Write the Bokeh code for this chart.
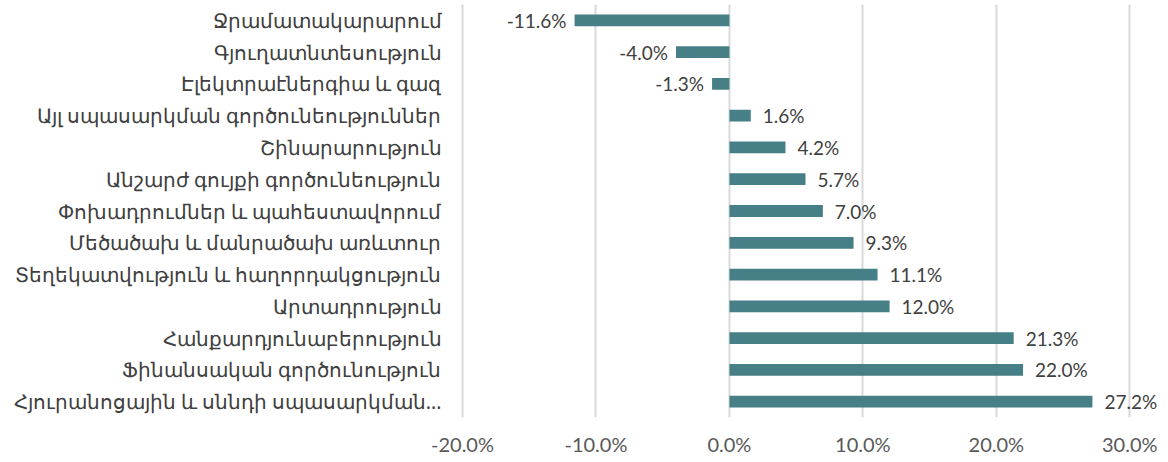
from bokeh.plotting import figure
from bokeh.models import ColumnDataSource, LabelSet, FixedTicker, CustomJSTickFormatter, Range1d
from bokeh.core.properties import value
from bokeh.embed import file_html
from bokeh.resources import INLINE

categories = [
    "Ջրամատակարարում",
    "Գյուղատնտեսություն",
    "Էլեկտրաէներգիա և գազ",
    "Այլ սպասարկման գործունեություններ",
    "Շինարարություն",
    "Անշարժ գույքի գործունեություն",
    "Փոխադրումներ և պահեստավորում",
    "Մեծածախ և մանրածախ առևտուր",
    "Տեղեկատվություն և հաղորդակցություն",
    "Արտադրություն",
    "Հանքարդյունաբերություն",
    "Ֆինանսական գործունություն",
    "Հյուրանոցային և սննդի սպասարկման...",
]
values = [-11.6, -4.0, -1.3, 1.6, 4.2, 5.7, 7.0, 9.3, 11.1, 12.0, 21.3, 22.0, 27.2]
x_ticks = [-20, -10, 0, 10, 20, 30]

labels = ["%.1f%%" % v for v in values]
src_pos = ColumnDataSource(dict(
    y=[c for c, v in zip(categories, values) if v >= 0],
    x=[v for v in values if v >= 0],
    t=[l for l, v in zip(labels, values) if v >= 0],
))
src_neg = ColumnDataSource(dict(
    y=[c for c, v in zip(categories, values) if v < 0],
    x=[v for v in values if v < 0],
    t=[l for l, v in zip(labels, values) if v < 0],
))
src = ColumnDataSource(dict(y=categories, right=values))

p = figure(
    y_range=list(reversed(categories)),
    x_range=Range1d(-20, 32.3),
    width=1160, height=458,
    output_backend="svg", toolbar_location=None,
    min_border_left=462, min_border_right=0, min_border_top=4, min_border_bottom=38,
)
p.outline_line_color = None
p.background_fill_color = "white"
p.border_fill_color = "white"

p.hbar(y="y", left=0, right="right", height=0.37, source=src,
       fill_color="#467F86", line_color=None)

lab_font = "Lato"
p.add_layout(LabelSet(x="x", y="y", text="t", source=src_pos, x_offset=12, y_offset=0,
                      text_align="left", text_baseline="middle",
                      text_font=value(lab_font), text_font_size="19px", text_color="#404040"))
p.add_layout(LabelSet(x="x", y="y", text="t", source=src_neg, x_offset=-8, y_offset=0,
                      text_align="right", text_baseline="middle",
                      text_font=value(lab_font), text_font_size="19px", text_color="#404040"))

p.xaxis.ticker = FixedTicker(ticks=x_ticks)
p.xaxis.formatter = CustomJSTickFormatter(code="return tick.toFixed(1) + '%';")
p.xaxis.axis_line_color = None
p.xaxis.major_tick_line_color = None
p.xaxis.minor_tick_line_color = None
p.xaxis.major_label_text_font = lab_font
p.xaxis.major_label_text_font_size = "20px"
p.xaxis.major_label_text_color = "#595959"
p.xaxis.major_label_standoff = 8

p.yaxis.axis_line_color = "#d9d9d9"
p.yaxis.axis_line_width = 2
p.yaxis.major_tick_line_color = None
p.yaxis.minor_tick_line_color = None
p.yaxis.major_label_text_font = "Noto Sans"
p.yaxis.major_label_text_font_size = "19.5px"
p.yaxis.major_label_text_color = "#404040"
p.yaxis.major_label_standoff = 15

p.xgrid.grid_line_color = "#d9d9d9"
p.xgrid.grid_line_width = 2
p.ygrid.grid_line_color = None

open("out.html", "w").write(file_html(p, INLINE))
